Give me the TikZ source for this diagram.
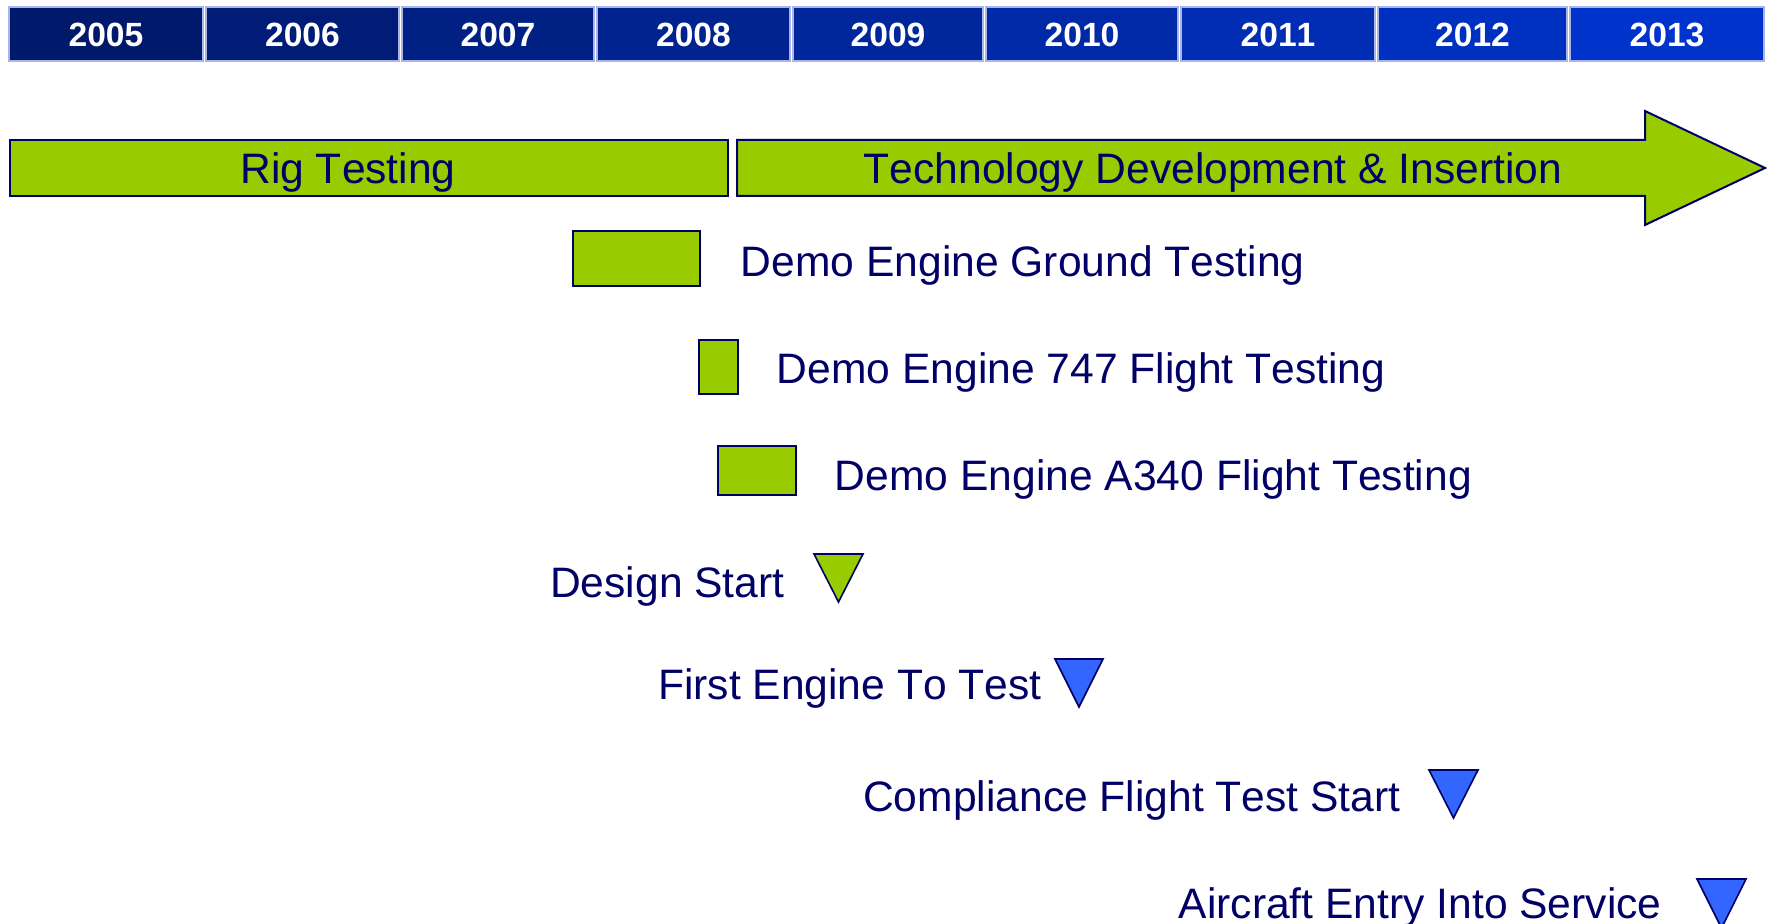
\documentclass[tikz,border=0pt]{standalone}
\usepackage{fontspec}
\setmainfont[Kerning=Off]{Liberation Sans}
\definecolor{navy}{RGB}{0,0,102}
\definecolor{lime}{RGB}{153,204,0}
\definecolor{mblue}{RGB}{51,102,255}
\definecolor{sepline}{RGB}{170,180,230}
\begin{document}
\begin{tikzpicture}[x=0.5pt,y=-0.5pt,
  bar/.style={draw=navy, line width=1pt, fill=lime, inner sep=0pt},
  lbl/.style={text=navy, font=\fontsize{21.3pt}{25pt}\selectfont, inner sep=0pt},
  yr/.style={text=white, font=\bfseries\fontsize{16.8pt}{20pt}\selectfont, inner sep=0pt},
  yrbox/.style={draw=sepline, line width=0.6pt},
  ms/.style={draw=navy, line width=0.8pt, line join=miter}
]
\useasboundingbox (0,0) rectangle (1767,924);
\clip (0,0) rectangle (1767,924);
% year header
\foreach \a/\b/\yr/\g/\bb in {9/203/2005/25/106, 206/399/2006/28/118, 402/594/2007/32/131,
  597/790/2008/35/143, 793/983/2009/38/155, 986/1178/2010/41/167, 1181/1375/2011/45/180,
  1378/1567/2012/48/192, 1570/1764/2013/51/204}{
  \fill[fill={rgb,255:red,0;green,\g;blue,\bb}, yrbox] (\a,7) rectangle (\b,61);
  \node[yr] (y\yr) at ({(\a+\b)/2},35) {\yr};
}
% rig testing bar
\node[bar, minimum width=359pt, minimum height=28pt] (rig) at (369,168) {};
\node[lbl, anchor=base] (rigt) at (348,184) {Rig Testing};
% technology arrow
\draw[bar, line join=miter] (737,140) -- (1645,140) -- (1645,111) -- (1765,168)
  -- (1645,225) -- (1645,196) -- (737,196) -- cycle;
\node[lbl, anchor=base] (techt) at (1213,184) {Technology Development \& Insertion};
% demo bars
\node[bar, minimum width=63.5pt, minimum height=27.5pt] (ground) at (636.5,258.5) {};
\node[lbl, anchor=base west] (groundt) at (740.5,277) {Demo Engine Ground Testing};
\node[bar, minimum width=19.5pt, minimum height=27pt] (f747) at (718.5,367) {};
\node[lbl, anchor=base west] (f747t) at (776.5,384) {Demo Engine 747 Flight Testing};
\node[bar, minimum width=39pt, minimum height=24.5pt] (a340) at (757,470.5) {};
\node[lbl, anchor=base west] (a340t) at (834.5,491) {Demo Engine A340 Flight Testing};
% milestones
\node[lbl, anchor=base east] (dst) at (785,598) {Design Start};
\draw[ms, fill=lime] (814,554) -- (863,554) -- (838.5,602) -- cycle;
\node[lbl, anchor=base east] (fet) at (1042,699) {First Engine To Test};
\draw[ms, fill=mblue] (1055,659) -- (1103,659) -- (1079,707) -- cycle;
\node[lbl, anchor=base east] (cft) at (1401,811) {Compliance Flight Test Start};
\draw[ms, fill=mblue] (1429,770) -- (1478,770) -- (1453.5,818) -- cycle;
\node[lbl, anchor=base east] (eis) at (1662,918) {Aircraft Entry Into Service};
\draw[ms, fill=mblue] (1697,879) -- (1746,879) -- (1721.5,928) -- cycle;
\end{tikzpicture}
\end{document}
